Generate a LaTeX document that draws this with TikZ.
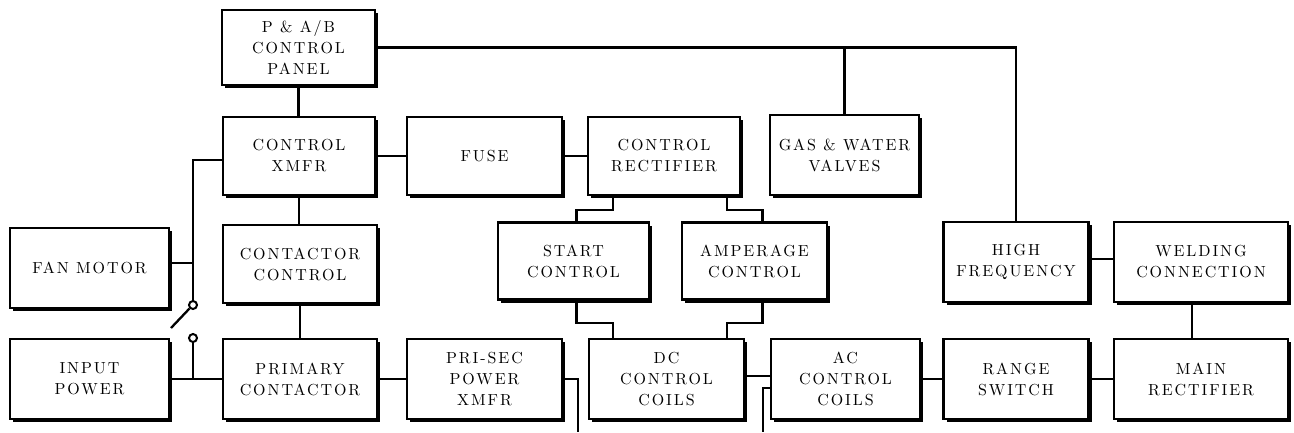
\documentclass[tikz,border=0pt]{standalone}
\usepackage{fontspec}
\newfontfamily\boxfont{lmroman10-regular}[Extension=.otf, LetterSpace=12]
\usetikzlibrary{shadows,calc}
\tikzset{
 blk/.style={draw, line width=2.6pt, fill=white, rectangle, align=center, inner sep=1pt,
   font=\boxfont\fontsize{16}{21}\selectfont,
   drop shadow={shadow xshift=3pt, shadow yshift=-3pt, fill=black, opacity=1}},
 wire/.style={line width=2.3pt},
 term/.style={circle, draw, line width=2pt, minimum size=8pt, inner sep=0pt, fill=white}
}
\begin{document}
\begin{tikzpicture}[x=1pt,y=-1pt]
\useasboundingbox (0,0) rectangle (1294,432);
% top
\node[blk, minimum width=153pt, minimum height=75pt] (panel) at (298.5,47.5) {P \& A/B\\CONTROL\\PANEL};
% row 1
\node[blk, minimum width=152pt, minimum height=78pt] (cxmfr) at (299,156) {CONTROL\\XMFR};
\node[blk, minimum width=155pt, minimum height=78pt] (fuse) at (484.5,156) {FUSE};
\node[blk, minimum width=152pt, minimum height=78pt] (crect) at (664,156) {CONTROL\\RECTIFIER};
\node[blk, minimum width=149pt, minimum height=80pt] (gas) at (844.5,155) {GAS \& WATER\\VALVES};
% row 2
\node[blk, minimum width=159pt, minimum height=80pt] (fan) at (89.5,268) {FAN MOTOR};
\node[blk, minimum width=154pt, minimum height=78pt] (cc) at (300,264) {CONTACTOR\\CONTROL};
\node[blk, minimum width=151pt, minimum height=77pt] (start) at (573.5,261) {START\\CONTROL};
\node[blk, minimum width=145pt, minimum height=77pt] (amp) at (754.5,261) {AMPERAGE\\CONTROL};
\node[blk, minimum width=145pt, minimum height=80pt] (hf) at (1016,262) {HIGH\\FREQUENCY};
\node[blk, minimum width=174pt, minimum height=80pt] (weld) at (1201,262) {WELDING\\CONNECTION};
% row 3
\node[blk, minimum width=159pt, minimum height=80pt] (input) at (89.5,379) {INPUT\\POWER};
\node[blk, minimum width=154pt, minimum height=80pt] (prim) at (300,379) {PRIMARY\\CONTACTOR};
\node[blk, minimum width=155pt, minimum height=80pt] (prisec) at (484.5,379) {PRI-SEC\\POWER\\XMFR};
\node[blk, minimum width=155pt, minimum height=80pt] (dc) at (666.5,379) {DC\\CONTROL\\COILS};
\node[blk, minimum width=149pt, minimum height=80pt] (ac) at (845.5,379) {AC\\CONTROL\\COILS};
\node[blk, minimum width=145pt, minimum height=80pt] (range) at (1016,379) {RANGE\\SWITCH};
\node[blk, minimum width=174pt, minimum height=80pt] (main) at (1201,379) {MAIN\\RECTIFIER};
% switch terminals
\node[term] (t1) at (193,305) {};
\node[term] (t2) at (193,338) {};
\coordinate (lev) at (171,328);
% helper coordinates
\coordinate (cw) at ([yshift=-4pt]cxmfr.west);
\coordinate (fe) at ([yshift=5pt]fan.east);
\coordinate (rs) at (613,210);
\coordinate (ra) at (727,210);
\coordinate (sd) at (613,323);
\coordinate (ad) at (727,323);
\coordinate (sn) at ([xshift=3pt]start.north);
\coordinate (ss) at ([xshift=3pt]start.south);
\coordinate (an) at ([xshift=8pt]amp.north);
\coordinate (as) at ([xshift=8pt]amp.south);
\coordinate (de) at ([yshift=3pt]dc.east);
\coordinate (aw) at ([yshift=-9pt]ac.west);
\coordinate (pb) at (578,432);
\coordinate (ab) at (763,432);
\coordinate (he) at ([yshift=3pt]hf.east);
\coordinate (mn) at ([xshift=-9pt]main.north);
% wires
\begin{scope}[wire]
\draw (panel.east) -| (hf.north);
\draw (gas.north) -- (gas.north |- panel.east);
\draw (panel.south) -- (panel.south |- cxmfr.north);
\draw (cxmfr.south) -- (cxmfr.south |- cc.north);
\draw (cc.south) -- (cc.south |- prim.north);
\draw (cw) -| (t1.north);
\draw (fe) -- (fe -| t1);
\draw (t1.225) -- (lev);
\draw (t2.south) -- (t2 |- input.east);
\draw (input.east) -- (prim.west);
\draw (cxmfr.east |- fuse.west) -- (fuse.west);
\draw (fuse.east) -- (crect.west);
\draw (prim.east) -- (prisec.west);
\draw (crect.south -| rs) -- (rs) -| (sn);
\draw (crect.south -| ra) -- (ra) -| (an);
\draw (ss) |- (sd) -- (sd |- dc.north);
\draw (as) |- (ad) -- (ad |- dc.north);
\draw (de) -- (de -| ac.west);
\draw (prisec.east) -| (pb);
\draw (aw) -| (ab);
\draw (ac.east) -- (range.west);
\draw (range.east) -- (main.west);
\draw (mn) -- (mn |- weld.south);
\draw (he) -- (he -| weld.west);
\end{scope}
\end{tikzpicture}
\end{document}
